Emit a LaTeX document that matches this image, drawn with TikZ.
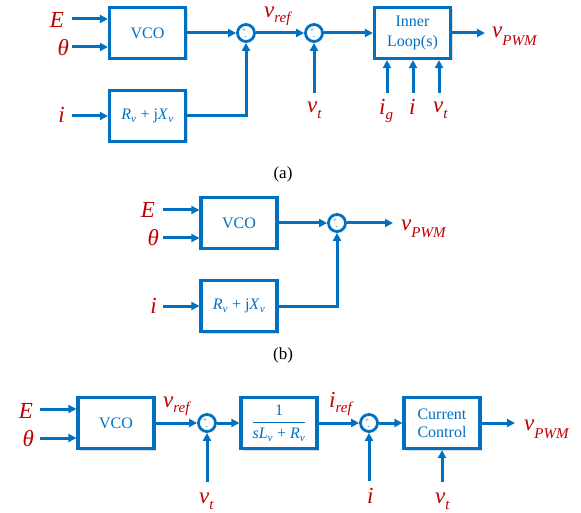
\documentclass[tikz,border=0pt]{standalone}
\usepackage{fontspec}
\setmainfont{Liberation Serif}
\usetikzlibrary{arrows.meta,shadows}
\definecolor{lineblue}{RGB}{0,112,192}
\definecolor{sigred}{RGB}{192,0,0}
\newcommand{\lsub}[2][5pt]{\raisebox{-#1}{\fontsize{15}{15}\selectfont #2}}

\begin{document}
\begin{tikzpicture}[x=1pt,y=-1pt,
  blockbox/.style={draw=lineblue, line width=3.2pt, fill=white, text=lineblue,
    minimum width=76pt, minimum height=51pt, align=center, inner sep=2pt,
    font=\fontsize{16}{20}\selectfont,
    drop shadow={shadow xshift=2pt, shadow yshift=-2pt, opacity=0.25, fill=black!60}},
  sumnode/.style={circle, draw=lineblue, line width=2.8pt, fill=white, minimum size=17pt, inner sep=0pt,
    label={[sgn, xshift=-2pt, yshift=2.5pt]center:+},
    label={[sgn, xshift=-0.3pt, yshift=-5pt]center:-}},
  sgn/.style={text=lineblue, font=\fontsize{7}{7}\selectfont, inner sep=0pt},
  sig/.style={text=sigred, font=\fontsize{23}{23}\selectfont\itshape, inner sep=0pt},
  arr/.style={draw=lineblue, line width=3pt, -{Triangle[length=8pt,width=8pt]}},
  captext/.style={font=\fontsize{17}{17}\selectfont}]
\useasboundingbox (0,0) rectangle (581,513);

% (a)
\node[blockbox] (vcoA) at (147.5,33) {VCO};
\node[blockbox] (impA) at (147.5,116) {\textit{R}\textsubscript{\textit{v}} + j\textit{X}\textsubscript{\textit{v}}};
\node[sumnode] (sumA1) at (246,33) {};
\node[sumnode] (sumA2) at (314,33) {};
\node[blockbox] (innerA) at (412.5,33) {Inner\\Loop(s)};
\node[sig, anchor=base east] (eA) at (64,28) {E};
\node[sig, anchor=base east] (thA) at (69,56) {θ};
\node[sig, anchor=base east] (iA) at (65,123) {i};
\node[sig, anchor=base west] (vrefA) at (264,18) {v\lsub{ref}};
\node[sig, anchor=base west] (vtA) at (307,113) {v\lsub[6pt]{t}};
\node[sig, anchor=base west] (igA) at (379,115) {i\lsub{g}};
\node[sig, anchor=base west] (iinA) at (409,115) {i};
\node[sig, anchor=base west] (vtinA) at (433,113) {v\lsub[6pt]{t}};
\node[sig, anchor=base west] (vpwmA) at (492,38) {v\lsub[8pt]{PWM}};
\node[captext] (capA) at (283,174) {(a)};
\coordinate (eAin) at (72,19);
\coordinate (thAin) at (72,47);
\coordinate (iAin) at (72,116);
\coordinate (vtAin) at (314,93);
\coordinate (igAin) at (387,93);
\coordinate (iinAin) at (413,93);
\coordinate (vtinAin) at (439,93);
\coordinate (outA) at (485,33);
\draw[arr] (eAin) -- (eAin -| vcoA.west);
\draw[arr] (thAin) -- (thAin -| vcoA.west);
\draw[arr] (iAin) -- (iAin -| impA.west);
\draw[arr] (vcoA) -- (sumA1);
\draw[arr] (impA.east) -| (sumA1.south);
\draw[arr] (sumA1) -- (sumA2);
\draw[arr] (vtAin) -- (sumA2.south);
\draw[arr] (sumA2) -- (innerA);
\draw[arr] (igAin) -- (igAin |- innerA.south);
\draw[arr] (iinAin) -- (iinAin |- innerA.south);
\draw[arr] (vtinAin) -- (vtinAin |- innerA.south);
\draw[arr] (innerA) -- (outA);

% (b)
\node[blockbox] (vcoB) at (239,223) {VCO};
\node[blockbox] (impB) at (239,306) {\textit{R}\textsubscript{\textit{v}} + j\textit{X}\textsubscript{\textit{v}}};
\node[sumnode] (sumB) at (337,223) {};
\node[sig, anchor=base east] (eB) at (155,218) {E};
\node[sig, anchor=base east] (thB) at (159,246) {θ};
\node[sig, anchor=base east] (iB) at (157,313) {i};
\node[sig, anchor=base west] (vpwmB) at (401,230) {v\lsub[8pt]{PWM}};
\node[captext] (capB) at (283,355) {(b)};
\coordinate (eBin) at (163,210);
\coordinate (thBin) at (163,238);
\coordinate (iBin) at (163,306);
\coordinate (outB) at (393,223);
\draw[arr] (eBin) -- (eBin -| vcoB.west);
\draw[arr] (thBin) -- (thBin -| vcoB.west);
\draw[arr] (iBin) -- (iBin -| impB.west);
\draw[arr] (vcoB) -- (sumB);
\draw[arr] (impB.east) -| (sumB.south);
\draw[arr] (sumB) -- (outB);

% (c)
\node[blockbox] (vcoC) at (116,423) {VCO};
\node[sumnode] (sumC1) at (207,423) {};
\node[blockbox] (gainC) at (279,423) {$\displaystyle\frac{\mbox{1}}{\mbox{\textit{sL}\textsubscript{\textit{v}} + \textit{R}\textsubscript{\textit{v}}}}$};
\node[sumnode] (sumC2) at (369,423) {};
\node[blockbox] (ccC) at (442,423) {Current\\[-2pt]Control};
\node[sig, anchor=base east] (eC) at (33,418) {E};
\node[sig, anchor=base east] (thC) at (34,446) {θ};
\node[sig, anchor=base west] (vrefC) at (163,407) {v\lsub{ref}};
\node[sig, anchor=base west] (vtC) at (199,503) {v\lsub[6pt]{t}};
\node[sig, anchor=base west] (irefC) at (329,407) {i\lsub{ref}};
\node[sig, anchor=base west] (iC) at (367,503) {i};
\node[sig, anchor=base west] (vtinC) at (435,503) {v\lsub[6pt]{t}};
\node[sig, anchor=base west] (vpwmC) at (524,430) {v\lsub[8pt]{PWM}};
\coordinate (eCin) at (40,409);
\coordinate (thCin) at (40,438);
\coordinate (vtCin) at (207,482);
\coordinate (iCin) at (369,481);
\coordinate (vtinCin) at (442,482);
\coordinate (outC) at (515,423);
\draw[arr] (eCin) -- (eCin -| vcoC.west);
\draw[arr] (thCin) -- (thCin -| vcoC.west);
\draw[arr] (vcoC) -- (sumC1);
\draw[arr] (vtCin) -- (sumC1.south);
\draw[arr] (sumC1) -- (gainC);
\draw[arr] (gainC) -- (sumC2);
\draw[arr] (iCin) -- (sumC2.south);
\draw[arr] (sumC2) -- (ccC);
\draw[arr] (vtinCin) -- (vtinCin |- ccC.south);
\draw[arr] (ccC) -- (outC);
\end{tikzpicture}
\end{document}
